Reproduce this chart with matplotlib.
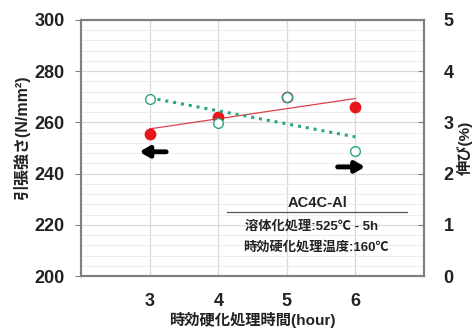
import numpy as np
import matplotlib.pyplot as plt
from matplotlib.ticker import MultipleLocator

plt.rcParams['font.family'] = ['Liberation Sans', 'Noto Sans CJK JP', 'DejaVu Sans']

# data
hours = [3, 4, 5, 6]
tensile = [255.5, 262, 270, 266]      # N/mm2, left axis
elong = [3.46, 2.99, 3.50, 2.44]      # %, right axis

fig = plt.figure(figsize=(4.77, 3.31), dpi=100)
ax = fig.add_axes([0.17, 0.166, 0.719, 0.774])
ax2 = ax.twinx()

red = '#e8161b'
green = '#2aa87a'
ink = '#222222'

# grid
ax.set_xlim(2, 7)
ax.set_ylim(200, 300)
ax.yaxis.set_major_locator(MultipleLocator(20))
ax.yaxis.set_minor_locator(MultipleLocator(4))
ax.set_xticks(hours)
ax.grid(True, which='major', color='#d9d9d9', lw=0.9)
ax.grid(True, which='minor', axis='y', color='#ececec', lw=0.7)
ax.set_axisbelow(True)

# tensile strength
ax.plot(hours, tensile, 'o', color=red, ms=7.5, zorder=4)
p = np.polyfit(hours, tensile, 1)
xs = np.array([3, 6])
ax.plot(xs, np.polyval(p, xs), color='#d8202a', lw=0.9, alpha=0.85, zorder=3)

# elongation
ax2.set_ylim(0, 5)
ax2.yaxis.set_major_locator(MultipleLocator(1))
ax2.plot(hours, elong, 'o', mfc='white', mec=green, mew=1.0, ms=7, zorder=3)
q = np.polyfit(hours, elong, 1)
ax2.plot(xs, np.polyval(q, xs), color=green, lw=2.2, ls=(0, (1, 1.6)), zorder=2)

# arrows
arrow = dict(arrowstyle='-|>,head_length=0.55,head_width=0.32', lw=3.5, color='black',
             shrinkA=0, shrinkB=0)
ax.annotate('', xy=(2.85, 248.5), xytext=(3.24, 248.5), arrowprops=arrow)
ax2.annotate('', xy=(6.14, 2.13), xytext=(5.74, 2.13), arrowprops=arrow)

# note
ax.text(5.45, 228.5, 'AC4C-Al', ha='center', va='center', fontsize=10.5, fontweight='bold', color=ink)
ax.plot([4.12, 6.75], [225, 225], color='#555555', lw=0.9)
ax.text(5.36, 219.3, '溶体化処理:525℃ - 5h', ha='center', va='center', fontsize=9.5,
        fontweight='bold', color=ink)
ax.text(5.42, 211.2, '時効硬化処理温度:160℃', ha='center', va='center', fontsize=9.5,
        fontweight='bold', color=ink)

# spines and ticks
for a in (ax, ax2):
    for s in a.spines.values():
        s.set_color('#808080')
        s.set_linewidth(1.5)
ax.tick_params(axis='y', which='major', direction='out', length=4, color='#808080', labelsize=13, pad=8)
ax.tick_params(axis='y', which='minor', length=0)
ax.tick_params(axis='x', length=0, labelsize=13, pad=12)
ax2.tick_params(axis='y', direction='in', length=4, color='#808080', labelsize=13, pad=14)
for lab in ax.get_xticklabels() + ax.get_yticklabels() + ax2.get_yticklabels():
    lab.set_fontweight('bold')
    lab.set_color(ink)

ax.set_xlabel('時効硬化処理時間(hour)', fontsize=11, fontweight='bold', color=ink, labelpad=2)
ax.set_ylabel('引張強さ(N/mm²)', fontsize=11.5, fontweight='bold', color=ink)
ax.yaxis.set_label_coords(-0.15, 0.54)
ax2.set_ylabel('伸び(%)', fontsize=11, fontweight='bold', color=ink, labelpad=2)

fig.savefig('out.png', dpi=100)
